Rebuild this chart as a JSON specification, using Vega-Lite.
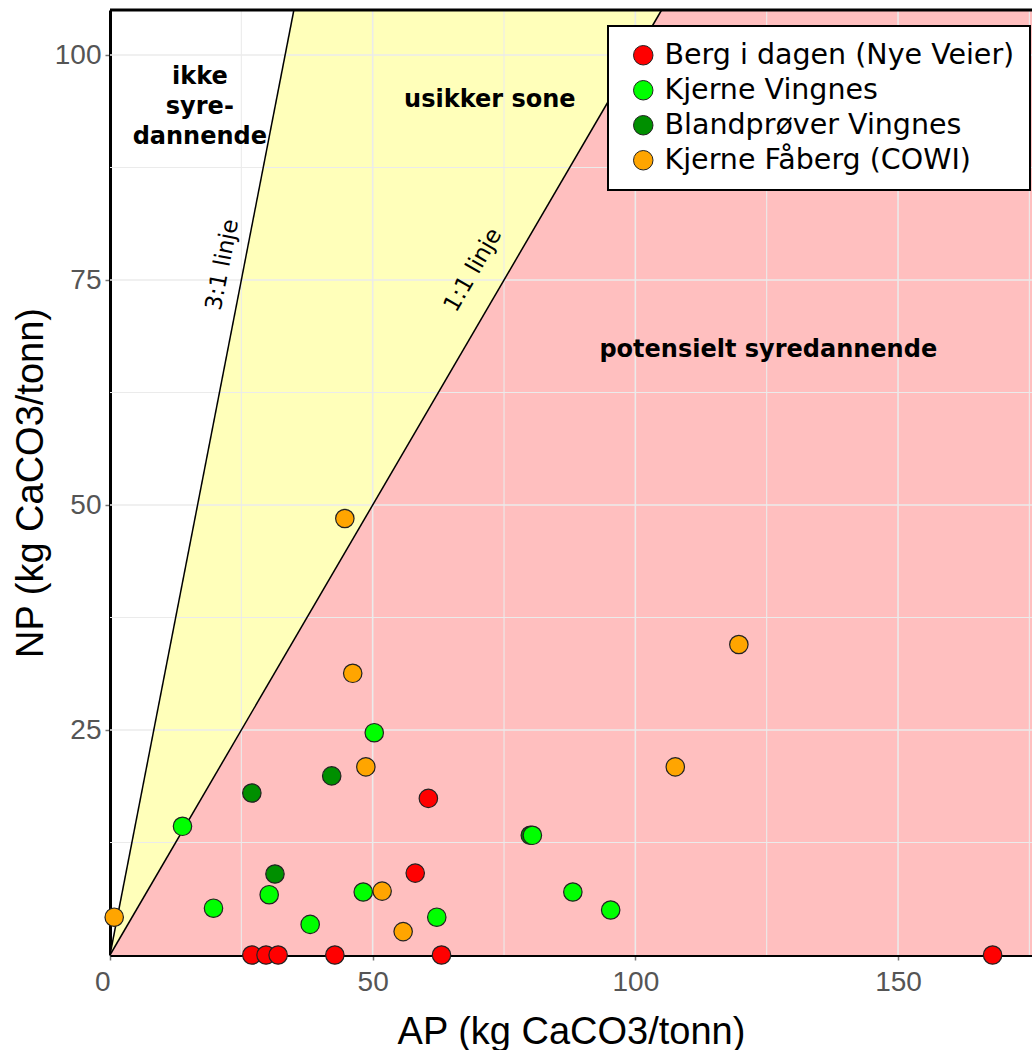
{
  "$schema": "https://vega.github.io/schema/vega-lite/v6.json",
  "width": 922,
  "height": 945,
  "autosize": {"type": "none"},
  "padding": {"left": 110, "top": 10, "right": 0, "bottom": 95},
  "background": "white",
  "config": {"view": {"stroke": null}, "font": "Liberation Sans"},
  "datasets": {
    "zones": [
      {"zone": "usikker", "AP": 0, "NP": 0},
      {"zone": "usikker", "AP": 35, "NP": 105},
      {"zone": "usikker", "AP": 175.5, "NP": 105},
      {"zone": "potensielt", "AP": 0, "NP": 0},
      {"zone": "potensielt", "AP": 105, "NP": 105},
      {"zone": "potensielt", "AP": 175.5, "NP": 105}
    ],
    "lines": [
      {"line": "3:1", "AP": 0, "NP": 0, "APend": 35, "NPend": 105},
      {"line": "1:1", "AP": 0, "NP": 0, "APend": 105, "NPend": 105}
    ],
    "gridx": [{"v": 25}, {"v": 50}, {"v": 75}, {"v": 100}, {"v": 125}, {"v": 150}, {"v": 175}],
    "gridy": [{"v": 12.5}, {"v": 25}, {"v": 37.5}, {"v": 50}, {"v": 62.5}, {"v": 75}, {"v": 87.5}, {"v": 100}],
    "samples": [
      {"serie": "Berg i dagen (Nye Veier)", "AP": 27.0, "NP": 0},
      {"serie": "Berg i dagen (Nye Veier)", "AP": 29.7, "NP": 0},
      {"serie": "Berg i dagen (Nye Veier)", "AP": 32.0, "NP": 0},
      {"serie": "Berg i dagen (Nye Veier)", "AP": 42.8, "NP": 0},
      {"serie": "Berg i dagen (Nye Veier)", "AP": 63.1, "NP": 0},
      {"serie": "Berg i dagen (Nye Veier)", "AP": 168.0, "NP": 0},
      {"serie": "Berg i dagen (Nye Veier)", "AP": 60.6, "NP": 17.4},
      {"serie": "Berg i dagen (Nye Veier)", "AP": 58.1, "NP": 9.1},
      {"serie": "Blandprøver Vingnes", "AP": 27.0, "NP": 18.0},
      {"serie": "Blandprøver Vingnes", "AP": 31.4, "NP": 9.0},
      {"serie": "Blandprøver Vingnes", "AP": 42.2, "NP": 19.9},
      {"serie": "Blandprøver Vingnes", "AP": 80.0, "NP": 13.3},
      {"serie": "Kjerne Vingnes", "AP": 13.8, "NP": 14.3},
      {"serie": "Kjerne Vingnes", "AP": 19.7, "NP": 5.2},
      {"serie": "Kjerne Vingnes", "AP": 30.3, "NP": 6.7},
      {"serie": "Kjerne Vingnes", "AP": 38.1, "NP": 3.4},
      {"serie": "Kjerne Vingnes", "AP": 50.3, "NP": 24.7},
      {"serie": "Kjerne Vingnes", "AP": 48.2, "NP": 7.0},
      {"serie": "Kjerne Vingnes", "AP": 62.2, "NP": 4.2},
      {"serie": "Kjerne Vingnes", "AP": 80.4, "NP": 13.3},
      {"serie": "Kjerne Vingnes", "AP": 88.1, "NP": 7.0},
      {"serie": "Kjerne Vingnes", "AP": 95.3, "NP": 5.0},
      {"serie": "Kjerne Fåberg (COWI)", "AP": 0.8, "NP": 4.2},
      {"serie": "Kjerne Fåberg (COWI)", "AP": 44.7, "NP": 48.5},
      {"serie": "Kjerne Fåberg (COWI)", "AP": 46.2, "NP": 31.3},
      {"serie": "Kjerne Fåberg (COWI)", "AP": 48.7, "NP": 20.9},
      {"serie": "Kjerne Fåberg (COWI)", "AP": 51.8, "NP": 7.1},
      {"serie": "Kjerne Fåberg (COWI)", "AP": 55.8, "NP": 2.6},
      {"serie": "Kjerne Fåberg (COWI)", "AP": 107.6, "NP": 20.9},
      {"serie": "Kjerne Fåberg (COWI)", "AP": 119.7, "NP": 34.5}
    ],
    "zonelabels": [
      {"label": "ikke\nsyre-\ndannende", "AP": 17.1, "NP": 97.6},
      {"label": "usikker sone", "AP": 72.3, "NP": 95.0},
      {"label": "potensielt syredannende", "AP": 125.3, "NP": 67.2}
    ],
    "linelabels": [
      {"label": "3:1 linje", "AP": 21.4, "NP": 76.7},
      {"label": "1:1 linje", "AP": 69.1, "NP": 76.1}
    ]
  },
  "layer": [
    {
      "data": {"name": "zones"},
      "transform": [{"filter": "datum.zone == 'usikker'"}],
      "mark": {"type": "area", "color": "#FFFFBA", "opacity": 1},
      "encoding": {
        "x": {"field": "AP", "type": "quantitative", "scale": {"domain": [0, 175.5], "nice": false, "zero": false},
          "axis": {
            "values": [0, 50, 100, 150], "grid": false,
            "domainColor": "black", "domainWidth": 3,
            "tickColor": "#777", "tickWidth": 1.5, "tickSize": 5,
            "labelFont": "Liberation Sans", "labelFontSize": 28, "labelColor": "#555",
            "labelPadding": 8,
            "labelAlign": {"condition": {"test": "datum.value == 0", "value": "right"}, "value": "center"},
            "labelFlush": false,
            "title": "AP (kg CaCO3/tonn)", "titleFont": "Liberation Sans", "titleFontSize": 38,
            "titleFontWeight": "normal", "titleColor": "black", "titleY": 88, "titleBaseline": "alphabetic"
          }
        },
        "y": {"field": "NP", "type": "quantitative", "stack": null, "scale": {"domain": [0, 105], "nice": false, "zero": false},
          "axis": {
            "values": [25, 50, 75, 100], "grid": false,
            "domainColor": "black", "domainWidth": 3,
            "tickColor": "#777", "tickWidth": 1.5, "tickSize": 5,
            "labelFont": "Liberation Sans", "labelFontSize": 28, "labelColor": "#555", "labelPadding": 4,
            "title": "NP (kg CaCO3/tonn)", "titleFont": "Liberation Sans", "titleFontSize": 38,
            "titleFontWeight": "normal", "titleColor": "black",
            "titleX": -79, "titleY": 472.5, "titleAngle": 270, "titleAlign": "center", "titleBaseline": "middle"
          }
        },
        "y2": {"datum": 0}
      }
    },
    {
      "data": {"name": "zones"},
      "transform": [{"filter": "datum.zone == 'potensielt'"}],
      "mark": {"type": "area", "color": "#FFBFBF", "opacity": 1},
      "encoding": {
        "x": {"field": "AP", "type": "quantitative"},
        "y": {"field": "NP", "type": "quantitative", "stack": null},
        "y2": {"datum": 0}
      }
    },
    {
      "data": {"name": "gridx"},
      "mark": {"type": "rule", "color": "#EBEBEB"},
      "encoding": {
        "x": {"field": "v", "type": "quantitative"},
        "strokeWidth": {"condition": {"test": "datum.v % 50 == 0", "value": 1.6}, "value": 1.1}
      }
    },
    {
      "data": {"name": "gridy"},
      "mark": {"type": "rule", "color": "#EBEBEB"},
      "encoding": {
        "y": {"field": "v", "type": "quantitative"},
        "strokeWidth": {"condition": {"test": "datum.v % 25 == 0", "value": 1.6}, "value": 1.1}
      }
    },
    {
      "data": {"name": "lines"},
      "mark": {"type": "rule", "color": "black", "strokeWidth": 1.5},
      "encoding": {
        "x": {"field": "AP", "type": "quantitative"},
        "y": {"field": "NP", "type": "quantitative"},
        "x2": {"field": "APend"},
        "y2": {"field": "NPend"}
      }
    },
    {
      "data": {"values": [{"top": 105}]},
      "mark": {"type": "rule", "color": "black", "strokeWidth": 3},
      "encoding": {"y": {"field": "top", "type": "quantitative"}}
    },
    {
      "data": {"name": "zonelabels"},
      "mark": {"type": "text", "font": "DejaVu Sans", "fontWeight": "bold", "fontSize": 24, "color": "black",
        "align": "center", "baseline": "middle", "lineBreak": "\n", "lineHeight": 30},
      "encoding": {
        "x": {"field": "AP", "type": "quantitative"},
        "y": {"field": "NP", "type": "quantitative"},
        "text": {"field": "label", "type": "nominal"}
      }
    },
    {
      "data": {"name": "linelabels"},
      "mark": {"type": "text", "font": "DejaVu Sans", "fontSize": 23, "color": "black",
        "align": "center", "baseline": "middle"},
      "encoding": {
        "x": {"field": "AP", "type": "quantitative"},
        "y": {"field": "NP", "type": "quantitative"},
        "text": {"field": "label", "type": "nominal"},
        "angle": {"condition": {"test": "datum.label == '3:1 linje'", "value": -79}, "value": -60}
      }
    },
    {
      "data": {"name": "samples"},
      "mark": {"type": "circle", "size": 340, "opacity": 1, "stroke": "#222", "strokeWidth": 1.2},
      "encoding": {
        "x": {"field": "AP", "type": "quantitative"},
        "y": {"field": "NP", "type": "quantitative"},
        "fill": {
          "field": "serie", "type": "nominal",
          "scale": {
            "domain": ["Berg i dagen (Nye Veier)", "Kjerne Vingnes", "Blandprøver Vingnes", "Kjerne Fåberg (COWI)"],
            "range": ["#FF0000", "#00FF00", "#008F00", "#FFA500"]
          },
          "legend": {
            "orient": "none", "legendX": 498, "legendY": 16, "title": null,
            "fillColor": "white", "strokeColor": "black", "cornerRadius": 0,
            "padding": 15,
            "labelFont": "DejaVu Sans", "labelFontSize": 28.5, "labelColor": "black", "labelLimit": 600,
            "symbolType": "circle", "symbolSize": 380, "symbolStrokeColor": "#222", "symbolStrokeWidth": 1,
            "symbolOpacity": 1,
            "rowPadding": 6, "labelOffset": 7, "symbolOffset": 6,
            "encode": {"legend": {"update": {"strokeWidth": {"value": 2}}}}
          }
        }
      }
    }
  ]
}
